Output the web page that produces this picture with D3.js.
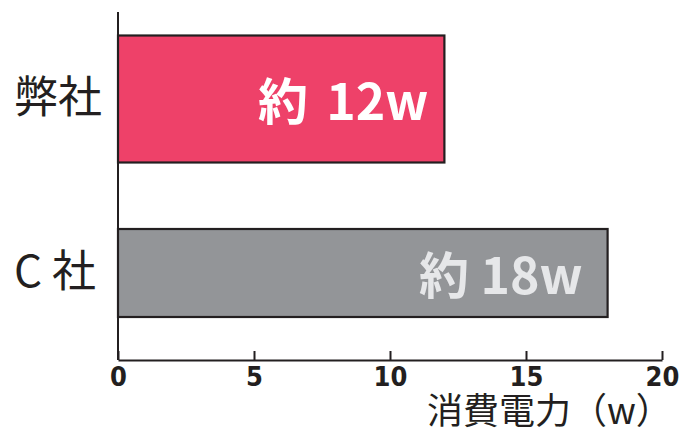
<!DOCTYPE html>
<html>
<head>
<meta charset="utf-8">
<script src="https://cdn.jsdelivr.net/npm/d3@7"></script>
<style>
  body { margin: 0; background: #fff; }
  svg { display: block; }
</style>
</head>
<body>
<div id="chart"></div>
<script>
  const categories = ['弊社', 'C 社']
  const values = [12, 18]
  const barLabels = ['約 12w', '約 18w']
  const ticks = [0, 5, 10, 15, 20]
  const axisTitle = '消費電力（w）'

  const W = 679, H = 429
  const m = { left: 118, right: 662, top: 12, bottom: 360 }

  const fills = ['#ee4169', '#939598']
  const textFills = ['#ffffff', '#e6e7e9']
  const thickness = [127, 88]
  const labelPad = [16, 25]
  const wordSpacing = [7, 0]

  const svg = d3.select('#chart').append('svg')
    .attr('width', W)
    .attr('height', H)

  const x = d3.scaleLinear().domain([0, 20]).range([m.left, m.right])
  const y = d3.scaleBand().domain(categories).range([m.top, m.bottom]).padding(0)

  // bars
  svg.selectAll('rect.bar')
    .data(values)
    .enter().append('rect')
    .attr('class', 'bar')
    .attr('x', x(0))
    .attr('y', (d, i) => y(categories[i]) + y.bandwidth() / 2 - thickness[i] / 2)
    .attr('width', d => x(d) - x(0))
    .attr('height', (d, i) => thickness[i])
    .attr('fill', (d, i) => fills[i])
    .attr('stroke', '#231f20')
    .attr('stroke-width', 2.2)

  svg.selectAll('text.barlabel')
    .data(values)
    .enter().append('text')
    .attr('class', 'barlabel')
    .attr('x', (d, i) => x(d) - labelPad[i])
    .attr('y', (d, i) => y(categories[i]) + y.bandwidth() / 2)
    .attr('dy', '0.42em')
    .attr('text-anchor', 'end')
    .attr('font-family', '"Noto Sans CJK JP", "Noto Sans", sans-serif')
    .attr('font-weight', 'bold')
    .attr('font-size', 50)
    .attr('word-spacing', (d, i) => wordSpacing[i])
    .attr('fill', (d, i) => textFills[i])
    .text((d, i) => barLabels[i])

  // y axis
  const yAxis = svg.append('g')
    .attr('transform', `translate(${m.left},0)`)
    .call(d3.axisLeft(y).tickSize(0).tickPadding(14))
  yAxis.select('.domain').attr('d', `M0,${m.top}V${m.bottom}`).attr('stroke', '#231f20').attr('stroke-width', 2)
  yAxis.selectAll('text')
    .attr('font-family', '"Noto Sans CJK JP", sans-serif')
    .attr('font-size', 44)
    .attr('fill', '#231f20')
    .attr('text-anchor', 'start')
    .attr('x', 14 - m.left)

  // x axis
  const xAxis = svg.append('g')
    .attr('transform', `translate(0,${m.bottom})`)
    .call(d3.axisTop(x).tickValues(ticks).tickSize(9).tickSizeOuter(0))
  xAxis.select('.domain').attr('stroke', '#231f20').attr('stroke-width', 2)
  xAxis.selectAll('.tick line').attr('stroke', '#231f20').attr('stroke-width', 2)
  xAxis.selectAll('.tick text')
    .attr('y', 26)
    .attr('dy', 0)
    .attr('font-family', '"DejaVu Sans Condensed", "DejaVu Sans", sans-serif')
    .attr('font-stretch', 'condensed')
    .attr('font-weight', 'bold')
    .attr('font-size', 27)
    .attr('fill', '#231f20')

  svg.append('text')
    .attr('x', 427)
    .attr('y', 424)
    .attr('text-anchor', 'start')
    .attr('font-family', '"Noto Sans CJK JP", sans-serif')
    .attr('font-size', 36)
    .attr('fill', '#231f20')
    .text(axisTitle)
</script>
</body>
</html>
